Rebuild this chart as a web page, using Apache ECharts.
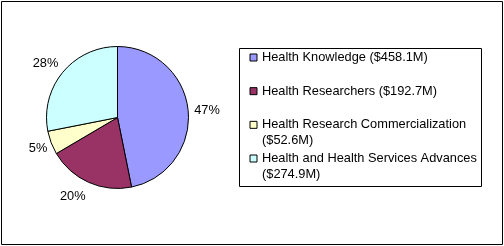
<!DOCTYPE html>
<html>
<head>
<meta charset="utf-8">
<script src="https://cdn.jsdelivr.net/npm/echarts@6/dist/echarts.min.js"></script>
<style>
html,body{margin:0;padding:0;background:#fff;}
#chart{width:504px;height:246px;}
</style>
</head>
<body>
<div id="chart"></div>
<script>
const categories = ['Health Knowledge', 'Health Researchers', 'Health Research Commercialization', 'Health and Health Services Advances'];
const values = [458.1, 192.7, 52.6, 274.9];
const legendLines = [
  ['Health Knowledge ($458.1M)'],
  ['Health Researchers ($192.7M)'],
  ['Health Research Commercialization', '($52.6M)'],
  ['Health and Health Services Advances', '($274.9M)']
];
const colors = ['#9999FF', '#993366', '#FFFFCC', '#CCFFFF'];

// label placement tuning (layout only)
const labelLineLen = [1, 16, 16.3, 13.3];
const labelDist = [5, -3.5, -11.4, -5.9];

const FONT = "'Liberation Sans', Arial, sans-serif";
const chart = echarts.init(document.getElementById('chart'), null, {renderer: 'canvas'});

const data = categories.map((name, i) => ({
  name: name,
  value: values[i],
  itemStyle: {color: colors[i]},
  label: {distanceToLabelLine: labelDist[i]},
  labelLine: {length: labelLineLen[i], length2: 0}
}));

chart.setOption({
  animation: false,
  graphic: [{
    type: 'rect', silent: true, z: 100,
    shape: {x: 1.5, y: 1.5, width: 501, height: 243},
    style: {fill: 'none', stroke: '#000', lineWidth: 1}
  }, {
    type: 'rect', silent: true, z: 100,
    shape: {x: 239.5, y: 48.5, width: 242, height: 138},
    style: {fill: 'none', stroke: '#000', lineWidth: 1}
  }],
  legend: {
    orient: 'vertical',
    left: 249.5, top: 33.5,
    padding: 0,
    itemGap: -14.33,
    itemWidth: 7, itemHeight: 7,
    icon: 'rect',
    selectedMode: false,
    itemStyle: {borderColor: '#000', borderWidth: 1},
    textStyle: {fontFamily: FONT, fontSize: 12.8, color: '#000', lineHeight: 16},
    formatter: function (name) {
      const lines = legendLines[categories.indexOf(name)];
      return '\u00a0\n' + lines[0] + '\n' + (lines[1] || '\u00a0');
    },
    data: categories
  },
  series: [{
    type: 'pie',
    center: [117.5, 117.5],
    radius: 71,
    startAngle: 90,
    clockwise: true,
    avoidLabelOverlap: false,
    silent: true,
    itemStyle: {borderColor: '#000', borderWidth: 1},
    label: {
      show: true, position: 'outside',
      fontFamily: FONT, fontSize: 12.8, color: '#000',
      formatter: p => Math.round(p.percent) + '%'
    },
    labelLine: {show: false},
    emphasis: {disabled: true},
    data: data
  }]
});
</script>
</body>
</html>
